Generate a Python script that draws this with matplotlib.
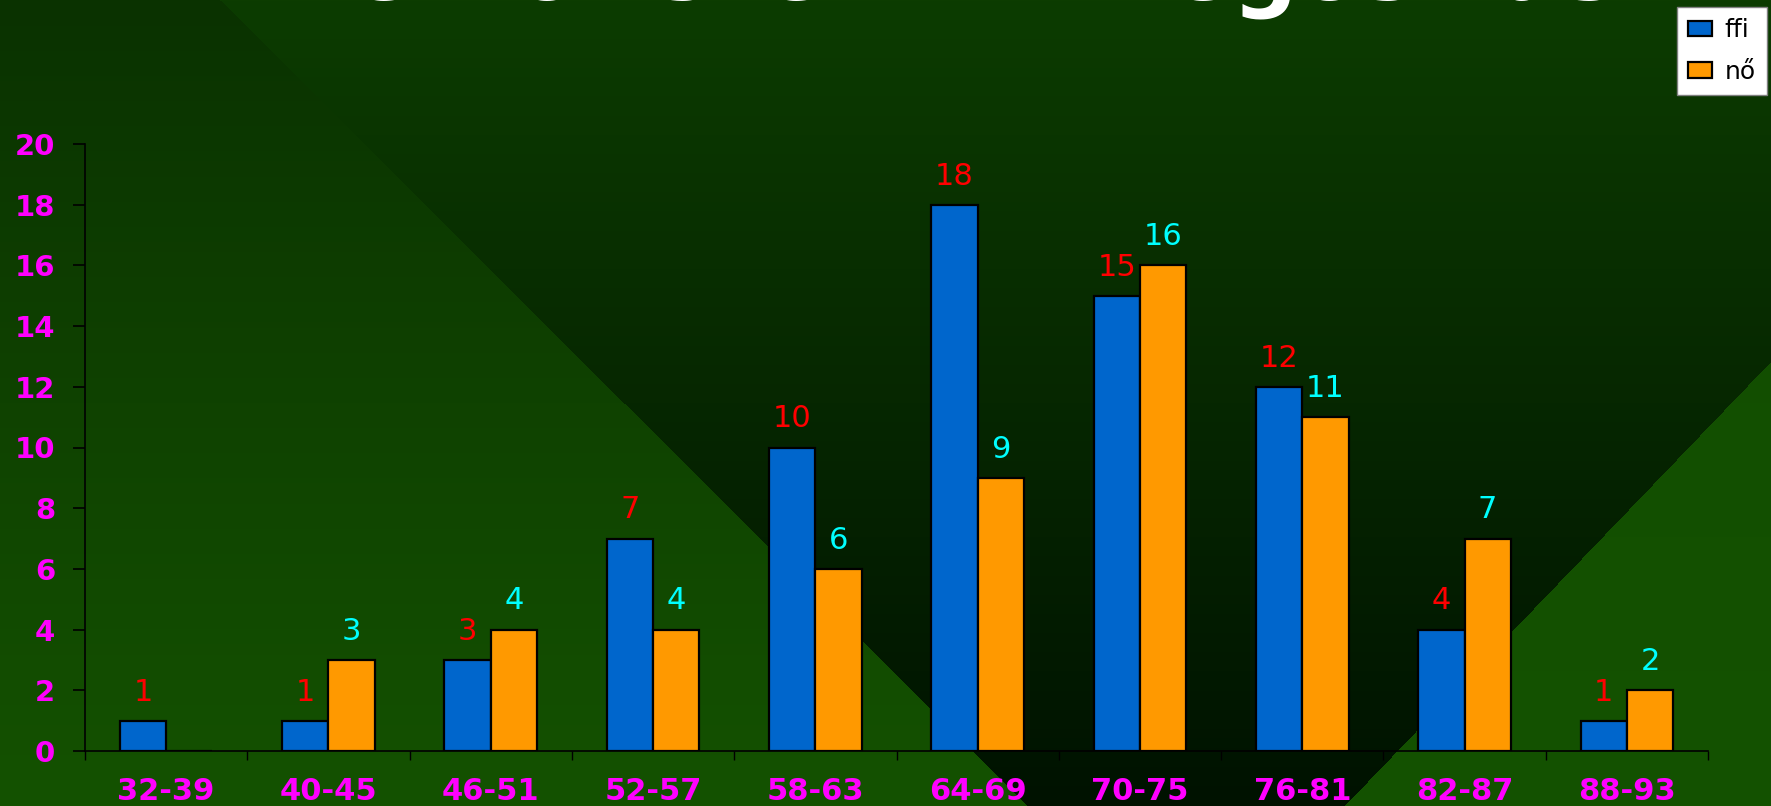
#/usr/bin/env python3

import numpy as np
import matplotlib
matplotlib.use('Agg')
import matplotlib.pyplot as plt

# age groups and head counts per sex
ages = ['32-39', '40-45', '46-51', '52-57', '58-63',
        '64-69', '70-75', '76-81', '82-87', '88-93']
ffi = [1, 1, 3, 7, 10, 18, 15, 12, 4, 1]
no = [0, 3, 4, 4, 6, 9, 16, 11, 7, 2]
series_names = ['ffi', 'nő']
title = 'Életkor szerinti megoszlás'

W, H = 1771, 806
fig = plt.figure(figsize=(W / 100, H / 100), dpi=100)

# slide-like background: dark green with two diagonal cuts
yy, xx = np.mgrid[0:H, 0:W].astype(float)
t = (yy / (H - 1))[..., None]
left_col = np.array([10, 50, 0]) + (np.array([20, 82, 0]) - np.array([10, 50, 0])) * t
mid_col = np.array([12, 60, 0]) + (np.array([0, 18, 0]) - np.array([12, 60, 0])) * t
right_col = np.array([17, 76, 0]) + (np.array([20, 82, 0]) - np.array([17, 76, 0])) * t
img = mid_col.copy()
left_mask = xx < 220 + yy * (808 / 806)
right_mask = (yy - 361) > (W - xx) * (445 / 427)
img = np.where(left_mask[..., None], left_col, img)
img = np.where(right_mask[..., None], right_col, img)
img = np.clip(img, 0, 255).astype(np.uint8)

bg = fig.add_axes([0, 0, 1, 1], zorder=-10)
bg.imshow(img, aspect='auto', interpolation='nearest')
bg.axis('off')

# title sits mostly above the canvas, only its lower part shows
fig.text(0.529, 1 + 0.5 / H, title, ha='center', va='baseline',
         fontsize=66, fontweight='bold', color='white', family='DejaVu Sans')

ax = fig.add_axes([85 / W, 55 / H, (1708 - 85) / W, (751 - 144) / H])
ax.set_facecolor('none')

x = np.arange(len(ages))
bw = 0.285
b1 = ax.bar(x - bw / 2, ffi, bw, color='#0066CC', edgecolor='black',
            linewidth=1.6, label=series_names[0])
b2 = ax.bar(x + bw / 2, no, bw, color='#FF9900', edgecolor='black',
            linewidth=1.6, label=series_names[1])

for bars, vals, col in [(b1, ffi, '#FF0000'), (b2, no, '#00FFFF')]:
    for r, v in zip(bars, vals):
        if v == 0:
            continue
        ax.annotate(str(v), (r.get_x() + r.get_width() / 2, v),
                    xytext=(0, 14.5), textcoords='offset points',
                    ha='center', va='baseline', color=col, fontsize=22,
                    family='DejaVu Sans')

ax.set_xlim(-0.5, len(ages) - 0.5)
ax.set_ylim(0, 20)
ax.set_yticks(np.arange(0, 21, 2))
ax.set_xticks(np.arange(len(ages) + 1) - 0.5)
ax.set_xticklabels([])
ax.set_xticks(x, minor=True)
ax.set_xticklabels(ages, minor=True)

ax.tick_params(axis='x', which='major', direction='out', length=6.5,
               width=1, color='black')
ax.tick_params(axis='x', which='minor', length=0, pad=19, labelsize=22,
               labelcolor='#FF00FF')
ax.tick_params(axis='y', direction='out', length=8.5, width=1.2,
               color='black', pad=13, labelsize=21, labelcolor='#FF00FF')
for lab in ax.get_xticklabels(minor=True) + ax.get_yticklabels():
    lab.set_fontweight('bold')
    lab.set_family('DejaVu Sans')

for s in ['top', 'right']:
    ax.spines[s].set_visible(False)
ax.spines['left'].set_color('black')
ax.spines['bottom'].set_color('black')
ax.spines['left'].set_linewidth(1.2)
ax.spines['bottom'].set_linewidth(1.2)

leg = ax.legend(loc='upper right', bbox_to_anchor=(1767 / W, 1 - 7 / H),
                bbox_transform=fig.transFigure, fontsize=18, frameon=True,
                fancybox=False, framealpha=1, facecolor='white',
                edgecolor='#808080', handlelength=0.95, handleheight=0.6,
                handletextpad=0.5, labelspacing=0.7, borderpad=0.45,
                borderaxespad=0)
leg.get_frame().set_linewidth(1)

fig.savefig('out.png', dpi=100)
